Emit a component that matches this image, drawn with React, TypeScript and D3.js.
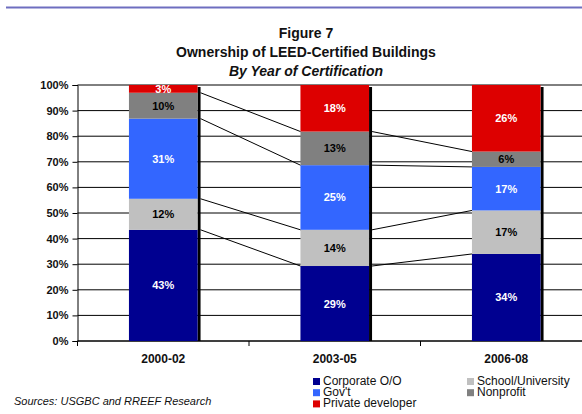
import React, { useRef, useEffect } from 'react';
import * as d3 from 'd3';

// chart values
const categories = ['2000-02', '2003-05', '2006-08'];
const corporate = [43, 29, 34];
const school = [12, 14, 17];
const govt = [31, 25, 17];
const nonprofit = [10, 13, 6];
const privateDev = [3, 18, 26];
const yTicks = [0, 0.1, 0.2, 0.3, 0.4, 0.5, 0.6, 0.7, 0.8, 0.9, 1];

const seriesKeys = ['corporate', 'school', 'govt', 'nonprofit', 'privateDev'];
const seriesColors = {
  corporate: '#000090',
  school: '#c0c0c0',
  govt: '#3366ff',
  nonprofit: '#808080',
  privateDev: '#dd0000',
};
const labelColors = {
  corporate: '#fff',
  school: '#000',
  govt: '#fff',
  nonprofit: '#000',
  privateDev: '#fff',
};

const legendItems = [
  { key: 'corporate', label: 'Corporate O/O', col: 0, row: 0 },
  { key: 'school', label: 'School/University', col: 1, row: 0 },
  { key: 'govt', label: "Gov't", col: 0, row: 1 },
  { key: 'nonprofit', label: 'Nonprofit', col: 1, row: 1 },
  { key: 'privateDev', label: 'Private developer', col: 0, row: 2 },
];

const FONT = "Arial, 'Liberation Sans', sans-serif";

const App = () => {
  const svgRef = useRef<SVGSVGElement>(null);

  useEffect(() => {
    const width = 582;
    const height = 414;
    const left = 77.5;
    const right = 592;
    const top = 85;
    const bottom = 341;

    const svg = d3.select(svgRef.current);
    svg.selectAll('*').remove();

    const table = categories.map((c, i) => ({
      cat: c,
      corporate: corporate[i],
      school: school[i],
      govt: govt[i],
      nonprofit: nonprofit[i],
      privateDev: privateDev[i],
    }));

    const stack = d3.stack().keys(seriesKeys).offset(d3.stackOffsetExpand);
    const series = stack(table as any);

    const x = d3.scaleBand().domain(categories).range([left, right]).paddingInner(0.6).paddingOuter(0.3);
    const y = d3.scaleLinear().domain([0, 1]).range([bottom, top]);

    svg.attr('width', width).attr('height', height).style('font-family', FONT);

    // top rule
    svg.append('line')
      .attr('x1', 6).attr('x2', width).attr('y1', 7.5).attr('y2', 7.5)
      .attr('stroke', '#6e6ec0').attr('stroke-width', 2);

    // titles
    const titles = [
      { t: 'Figure 7', y: 38, italic: false },
      { t: 'Ownership of LEED-Certified Buildings', y: 57, italic: false },
      { t: 'By Year of Certification', y: 76, italic: true },
    ];
    svg.append('g').selectAll('text').data(titles).join('text')
      .attr('x', 306).attr('y', (d) => d.y)
      .attr('text-anchor', 'middle')
      .attr('font-size', 14).attr('font-weight', 'bold')
      .attr('font-style', (d) => (d.italic ? 'italic' : 'normal'))
      .attr('fill', '#111')
      .text((d) => d.t);

    svg.append('defs').append('clipPath').attr('id', 'plotclip')
      .append('rect').attr('x', left).attr('y', top).attr('width', right - left).attr('height', bottom - top);

    // gridlines
    svg.append('g').selectAll('line').data(yTicks).join('line')
      .attr('x1', left).attr('x2', right)
      .attr('y1', (d) => y(d)).attr('y2', (d) => y(d))
      .attr('stroke', '#000').attr('stroke-width', 1);

    // y axis
    const yAxis = svg.append('g').attr('transform', `translate(${left},0)`)
      .call(d3.axisLeft(y).tickValues(yTicks).tickFormat(d3.format('.0%')).tickSize(5).tickPadding(4));
    yAxis.select('.domain').attr('stroke', '#000');
    yAxis.selectAll('text').attr('font-size', 11).attr('font-weight', 'bold').attr('font-family', FONT).attr('fill', '#111');

    // x axis ticks at band boundaries
    const step = x.step();
    const bounds = d3.range(categories.length + 1).map((i) => left + i * step);
    svg.append('g').selectAll('line').data(bounds).join('line')
      .attr('x1', (d) => d).attr('x2', (d) => d)
      .attr('y1', bottom).attr('y2', bottom + 5)
      .attr('stroke', '#000');
    svg.append('line').attr('x1', left).attr('x2', right).attr('y1', bottom).attr('y2', bottom).attr('stroke', '#000');

    svg.append('g').selectAll('text').data(categories).join('text')
      .attr('x', (d) => x(d) + x.bandwidth() / 2).attr('y', 363)
      .attr('text-anchor', 'middle').attr('font-size', 12).attr('font-weight', 'bold').attr('fill', '#111')
      .text((d) => d);

    const plot = svg.append('g').attr('clip-path', 'url(#plotclip)');

    // bar shadows
    plot.append('g').selectAll('rect').data(categories).join('rect')
      .attr('x', (d) => x(d) + x.bandwidth()).attr('y', top + 2)
      .attr('width', 3).attr('height', bottom - top - 2)
      .attr('fill', '#000');

    // stacked segments
    plot.append('g').selectAll('g').data(series).join('g')
      .attr('fill', (s) => seriesColors[s.key])
      .selectAll('rect').data((s) => s).join('rect')
      .attr('x', (d) => x(d.data.cat))
      .attr('y', (d) => y(d[1]))
      .attr('width', x.bandwidth())
      .attr('height', (d) => y(d[0]) - y(d[1]));

    // series lines between bars
    const linkData = [];
    series.slice(0, -1).forEach((s) => {
      for (let i = 0; i < categories.length - 1; i++) {
        linkData.push({ a: s[i], b: s[i + 1], ca: categories[i], cb: categories[i + 1] });
      }
    });
    plot.append('g').selectAll('line').data(linkData).join('line')
      .attr('x1', (d) => x(d.ca) + x.bandwidth() + 3).attr('y1', (d) => y(d.a[1]))
      .attr('x2', (d) => x(d.cb)).attr('y2', (d) => y(d.b[1]))
      .attr('stroke', '#000').attr('stroke-width', 1);

    // segment labels
    const labels = [];
    series.forEach((s) => {
      s.forEach((d, i) => {
        labels.push({ key: s.key, cat: categories[i], v: d.data[s.key], mid: (d[0] + d[1]) / 2 });
      });
    });
    plot.append('g').selectAll('text').data(labels).join('text')
      .attr('x', (d) => x(d.cat) + x.bandwidth() / 2)
      .attr('y', (d) => y(d.mid) + 4)
      .attr('text-anchor', 'middle').attr('font-size', 11).attr('font-weight', 'bold')
      .attr('fill', (d) => labelColors[d.key])
      .text((d) => `${d.v}%`);

    // legend
    const leg = svg.append('g').selectAll('g').data(legendItems).join('g')
      .attr('transform', (d) => `translate(${d.col === 0 ? 313 : 467},${385 + d.row * 11.2})`);
    leg.append('rect').attr('x', 0).attr('y', -7).attr('width', 7).attr('height', 7)
      .attr('fill', (d) => seriesColors[d.key]);
    leg.append('text').attr('x', 10).attr('y', 0).attr('font-size', 12).attr('fill', '#111')
      .text((d) => d.label);

    // source note
    svg.append('text').attr('x', 14).attr('y', 405)
      .attr('font-size', 11).attr('font-style', 'italic').attr('fill', '#111')
      .text('Sources: USGBC and RREEF Research');

    return () => { svg.selectAll('*').remove(); };
  }, []);

  return (
    <svg ref={svgRef} style={{ position: 'absolute', left: 0, top: 0, display: 'block', background: '#fff' }} />
  );
};

export default App;
